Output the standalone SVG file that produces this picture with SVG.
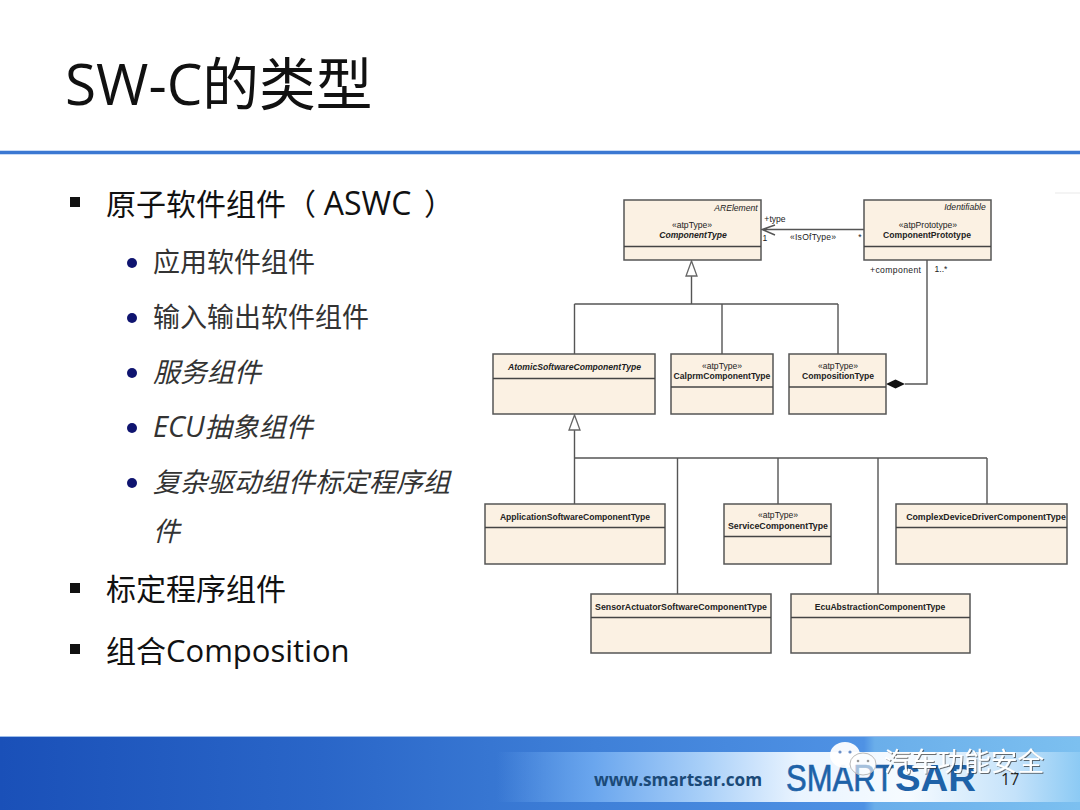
<svg xmlns="http://www.w3.org/2000/svg" width="1080" height="810" viewBox="0 0 1080 810">
<style>
.t{font-family:"Open Sans","Noto Sans CJK SC",sans-serif;fill:#111}
.m{font-size:30px}
.s{font-size:27px;fill:#333}
.i{font-style:italic}
.b{fill:#fbf1e3;stroke:#555;stroke-width:1.5}
.l{stroke:#444;stroke-width:1.3;fill:none}
.c{stroke:#555;stroke-width:1.4;fill:none}
.u{font-family:"Liberation Sans",sans-serif;font-size:8.6px;fill:#222;text-anchor:middle}
.n{font-weight:bold}
.k{fill:#fff;stroke:#666;stroke-width:1.3}
.sq{fill:#111}
.dot{fill:#0f1470}
</style>
<defs>
<linearGradient id="fb" x1="0" x2="1" y1="0" y2="0"><stop offset="0" stop-color="#1a50b8"/><stop offset=".3" stop-color="#2a66c8"/><stop offset=".55" stop-color="#3f80d8"/><stop offset=".8" stop-color="#4f92e4"/><stop offset=".81" stop-color="#6aaeea"/><stop offset="1" stop-color="#7cc0f0"/></linearGradient>
<linearGradient id="fs" x1="0" x2="1" y1="0" y2="0"><stop offset="0" stop-color="#fff" stop-opacity="0"/><stop offset=".46" stop-color="#6aa6ee" stop-opacity="0"/><stop offset=".55" stop-color="#6aa6ee"/><stop offset=".65" stop-color="#a8cff8"/><stop offset=".74" stop-color="#eaf4ff"/><stop offset=".84" stop-color="#f6fbff"/><stop offset=".94" stop-color="#c4e2fa"/><stop offset="1" stop-color="#8ccaf4"/></linearGradient>
<filter id="sh" x="-10%" y="-10%" width="120%" height="130%"><feDropShadow dx="1" dy="1" stdDeviation=".6" flood-color="#333" flood-opacity=".7"/></filter>
</defs>
<rect width="1080" height="810" fill="#fff"/>
<rect x="1055" y="192" width="25" height="2" fill="#f4f4f4"/>
<rect x="0" y="150" width="1080" height="5" fill="#c9dbf5"/>
<rect x="0" y="151" width="1080" height="3" fill="#3b78d2"/>
<text class="t" x="65" y="105" font-size="56.700">SW-C的类型</text>

<g id="bullets">
<rect class="sq" x="70" y="197" width="10" height="10"/>
<text class="t m" x="106" y="215">原子软件组件（ <tspan font-size="32">ASWC</tspan><tspan dx="5"> ）</tspan></text>
<circle class="dot" cx="132" cy="263" r="5"/>
<text class="t s" x="153" y="272">应用软件组件</text>
<circle class="dot" cx="132" cy="318" r="5"/>
<text class="t s" x="153" y="327">输入输出软件组件</text>
<circle class="dot" cx="132" cy="373" r="5"/>
<text class="t s i" x="153" y="382">服务组件</text>
<circle class="dot" cx="132" cy="428" r="5"/>
<text class="t s i" x="153" y="437"><tspan font-size="29" font-weight="500">ECU</tspan>抽象组件</text>
<circle class="dot" cx="132" cy="483" r="5"/>
<text class="t s i" x="153" y="492">复杂驱动组件标定程序组</text>
<text class="t s i" x="153" y="541">件</text>
<rect class="sq" x="70" y="583" width="10" height="10"/>
<text class="t m" x="106" y="600">标定程序组件</text>
<rect class="sq" x="70" y="644" width="10" height="10"/>
<text class="t m" x="106" y="662">组合<tspan font-size="31">Composition</tspan></text>
</g>

<g id="connectors">
<path class="c" d="M691.500 276V304M574.500 304H838M574.500 304V354M722 304V354M838 304V354"/>
<polygon class="k" points="691.500,261 686,276 697,276"/>
<path class="c" d="M574.500 430V504M574.500 458H987M677.500 458V594M778 458V504M878 458V594M987 458V504"/>
<polygon class="k" points="574.500,415 569,430 580,430"/>
<path class="c" d="M762 229.500H864M775 225L762 229.500L775 235"/>
<path class="c" d="M927 260V384H905"/>
<polygon points="886,384 895.500,379.500 905,384 895.500,388.500" fill="#111"/>
<text class="u" x="775" y="222">+type</text>
<text class="u" x="765" y="241">1</text>
<text class="u" x="813" y="240" textLength="46">«IsOfType»</text>
<text class="u" x="860" y="240">*</text>
<text class="u" x="895.500" y="273" textLength="51">+component</text>
<text class="u" x="941" y="272">1..*</text>
</g>

<g id="n-componenttype">
<rect class="b" x="624" y="200" width="137" height="60"/><path class="l" d="M624 246.500H761"/>
<text class="u i" x="736" y="211">ARElement</text>
<text class="u" x="692" y="228">«atpType»</text>
<text class="u n i" x="693" y="238">ComponentType</text>
</g>
<g id="n-componentprototype">
<rect class="b" x="864" y="200" width="127" height="60"/><path class="l" d="M864 246.500H991"/>
<text class="u i" x="965" y="210">Identifiable</text>
<text class="u" x="928" y="228">«atpPrototype»</text>
<text class="u n" x="927" y="238">ComponentPrototype</text>
</g>
<g id="n-atomic">
<rect class="b" x="493" y="354" width="162" height="60"/><path class="l" d="M493 378.500H655"/>
<text class="u n i" x="574.500" y="370">AtomicSoftwareComponentType</text>
</g>
<g id="n-calprm">
<rect class="b" x="671" y="354" width="102" height="60"/><path class="l" d="M671 387H773"/>
<text class="u" x="722" y="369">«atpType»</text>
<text class="u n" x="722" y="379">CalprmComponentType</text>
</g>
<g id="n-composition">
<rect class="b" x="789" y="354" width="97" height="60"/><path class="l" d="M789 387H886"/>
<text class="u" x="838" y="369">«atpType»</text>
<text class="u n" x="838" y="379">CompositionType</text>
</g>
<g id="n-application">
<rect class="b" x="485" y="504" width="180" height="60"/><path class="l" d="M485 527.500H665"/>
<text class="u n" x="575" y="520">ApplicationSoftwareComponentType</text>
</g>
<g id="n-service">
<rect class="b" x="724" y="504" width="107" height="60"/><path class="l" d="M724 536.500H831"/>
<text class="u" x="778" y="518">«atpType»</text>
<text class="u n" x="778" y="529" style="font-size:8.800px">ServiceComponentType</text>
</g>
<g id="n-complex">
<rect class="b" x="896" y="504" width="171" height="60"/><path class="l" d="M896 527.500H1067"/>
<text class="u n" x="986" y="520" style="font-size:8.800px">ComplexDeviceDriverComponentType</text>
</g>
<g id="n-sensor">
<rect class="b" x="591" y="594" width="180" height="59"/><path class="l" d="M591 617.500H771"/>
<text class="u n" x="681" y="610" style="font-size:8.800px">SensorActuatorSoftwareComponentType</text>
</g>
<g id="n-ecu">
<rect class="b" x="791" y="594" width="179" height="59"/><path class="l" d="M791 617.500H970"/>
<text class="u n" x="880" y="610">EcuAbstractionComponentType</text>
</g>

<g id="footer">
<rect x="0" y="736" width="1080" height="74" fill="url(#fb)"/>
<rect x="0" y="736" width="1080" height="1" fill="#9dbdea"/>
<rect x="0" y="752" width="1080" height="50" fill="url(#fs)"/>
<text x="594" y="786" font-family="Open Sans,sans-serif" font-weight="bold" font-size="17.200" fill="#1b4a78">www.smartsar.com</text>
<text x="786" y="791" font-family="Liberation Sans,sans-serif" font-size="36" fill="#1e62a8" stroke="#1e62a8" stroke-width=".6" textLength="108" lengthAdjust="spacingAndGlyphs">SMART</text>
<text x="895" y="791" font-family="Liberation Sans,sans-serif" font-weight="bold" font-size="36" fill="#1e62a8" textLength="81" lengthAdjust="spacingAndGlyphs">SAR</text>
<text x="1001" y="785" font-family="Open Sans,sans-serif" font-size="16" fill="#222">17</text>
</g>
<g id="watermark">
<ellipse cx="845" cy="755" rx="15" ry="13" fill="#fff" fill-opacity=".95"/>
<circle cx="840" cy="752" r="1.600" fill="#6a8fc8"/><circle cx="850" cy="752" r="1.600" fill="#6a8fc8"/>
<ellipse cx="863" cy="764" rx="13" ry="11" fill="#fff" fill-opacity=".6" stroke="#bbb"/>
<circle cx="858" cy="761" r="1.300" fill="#999"/><circle cx="868" cy="761" r="1.300" fill="#999"/>
<text x="884" y="771" font-family="Noto Sans CJK SC,sans-serif" font-size="26.700" fill="#fff" filter="url(#sh)">汽车功能安全</text>
</g>
</svg>
